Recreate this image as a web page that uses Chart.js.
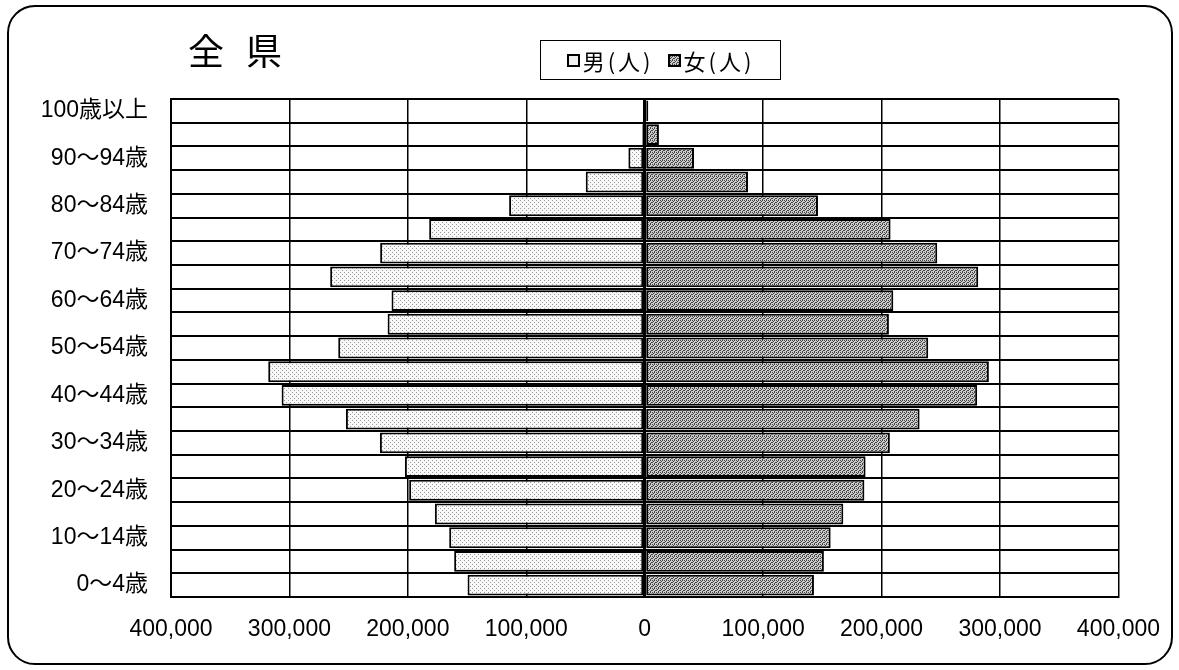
<!DOCTYPE html>
<html>
<head>
<meta charset="utf-8">
<script src="https://cdn.jsdelivr.net/npm/chart.js@4.4.1/dist/chart.umd.min.js"></script>
<style>
  html, body { margin: 0; padding: 0; background: #fff; }
  #wrap { position: relative; width: 1179px; height: 670px; overflow: hidden;
    font-family: 'Liberation Sans', 'Noto Sans CJK JP', sans-serif; }
  #frame { position: absolute; left: 7px; top: 5px; width: 1162px; height: 656px;
    border: 2px solid #000; border-radius: 28px; }
  #title { position: absolute; left: 188px; top: 30px; font-size: 36px; letter-spacing: 22px;
    font-family: 'Noto Sans CJK JP', sans-serif; color: #000; line-height: 1.1; }
  #legend { position: absolute; left: 540px; top: 40px; width: 239px; height: 38px;
    border: 1.5px solid #000; display: flex; align-items: center; justify-content: center;
    font-family: 'Noto Sans CJK JP', sans-serif; font-size: 22px; color: #000; gap: 14px;
    letter-spacing: 3px; }
  #legend span.sw { display: inline-block; width: 9px; height: 9px; border: 2px solid #000;
    margin-right: 3px; vertical-align: 3px; }
  canvas { position: absolute; left: 0; top: 0; }
</style>
</head>
<body>
<div id="wrap">
  <div id="frame"></div>
  <canvas id="pyramid" width="1179" height="670"></canvas>
  <div id="title">全県</div>
  <div id="legend">
    <div><span class="sw" id="swMale"></span>男(人)</div>
    <div><span class="sw" id="swFemale"></span>女(人)</div>
  </div>
</div>
<script>
const ageGroups = ['0～4歳', '5～9歳', '10～14歳', '15～19歳', '20～24歳', '25～29歳', '30～34歳',
  '35～39歳', '40～44歳', '45～49歳', '50～54歳', '55～59歳', '60～64歳', '65～69歳',
  '70～74歳', '75～79歳', '80～84歳', '85～89歳', '90～94歳', '95～99歳', '100歳以上'];

const male = [149600, 160900, 165100, 177200, 198900, 202500, 223600,
  252300, 306600, 317900, 258800, 217100, 213800, 265600,
  223400, 182000, 114500, 49800, 13800, 2000, 800];

const female = [142900, 151300, 157000, 167700, 185500, 186500, 207000,
  232100, 280700, 290600, 239400, 206200, 209900, 281600,
  247000, 207600, 146300, 87200, 41600, 12000, 3000];

const xTicks = [-400000, -300000, -200000, -100000, 0, 100000, 200000, 300000, 400000];

function makePattern(bg, dot, cells) {
  const c = document.createElement('canvas');
  c.width = 4; c.height = 4;
  const g = c.getContext('2d');
  g.fillStyle = bg;
  g.fillRect(0, 0, 4, 4);
  g.fillStyle = dot;
  cells.forEach(p => g.fillRect(p[0], p[1], 1, 1));
  return { canvas: c, pattern: document.getElementById('pyramid').getContext('2d').createPattern(c, 'repeat') };
}

const malePat = makePattern('#f8f8f8', '#9a9a9a', [[0, 0], [2, 2]]);
const femalePat = makePattern('#cccccc', '#444444', [[0, 0], [2, 0], [1, 1], [3, 2], [0, 2], [2, 3]]);
document.getElementById('swMale').style.background = '#f0f0f0';
document.getElementById('swFemale').style.background = 'url(' + femalePat.canvas.toDataURL() + ')';

const fontFamily = "'Liberation Sans', 'Noto Sans CJK JP', sans-serif";

new Chart(document.getElementById('pyramid'), {
  type: 'bar',
  data: {
    labels: ageGroups,
    datasets: [
      {
        label: '男(人)',
        data: male.map(v => -v),
        backgroundColor: malePat.pattern,
        borderColor: '#000',
        borderWidth: 2,
        borderSkipped: false,
        barPercentage: 0.88,
        categoryPercentage: 1
      },
      {
        label: '女(人)',
        data: female,
        backgroundColor: femalePat.pattern,
        borderColor: '#000',
        borderWidth: 2,
        borderSkipped: false,
        barPercentage: 0.88,
        categoryPercentage: 1
      }
    ]
  },
  options: {
    indexAxis: 'y',
    responsive: false,
    animation: false,
    layout: { padding: { top: 99, left: 0, right: 60, bottom: 22 } },
    plugins: {
      legend: { display: false },
      title: { display: false },
      tooltip: { enabled: false }
    },
    scales: {
      x: {
        stacked: true,
        min: -400000,
        max: 400000,
        afterBuildTicks: axis => { axis.ticks = xTicks.map(v => ({ value: v })); },
        afterFit: axis => { axis.height = 51; },
        border: { color: '#000', width: 2 },
        grid: {
          color: '#000',
          lineWidth: ctx => (ctx.tick && ctx.tick.value === 0 ? 3 : 1.5),
          drawTicks: false
        },
        ticks: {
          color: '#000',
          padding: 19,
          maxRotation: 0,
          font: { family: fontFamily, size: 23 },
          callback: v => Math.abs(v).toLocaleString('en-US')
        }
      },
      y: {
        stacked: true,
        reverse: true,
        afterFit: axis => { axis.width = 171; },
        border: { color: '#000', width: 2 },
        grid: { color: '#000', lineWidth: 2, drawTicks: false, offset: true },
        ticks: {
          color: '#000',
          padding: 23,
          autoSkip: false,
          font: { family: fontFamily, size: 23 },
          callback: function (v, i) { return i % 2 === 0 ? ageGroups[i] : ''; }
        }
      }
    }
  }
});
</script>
</body>
</html>
